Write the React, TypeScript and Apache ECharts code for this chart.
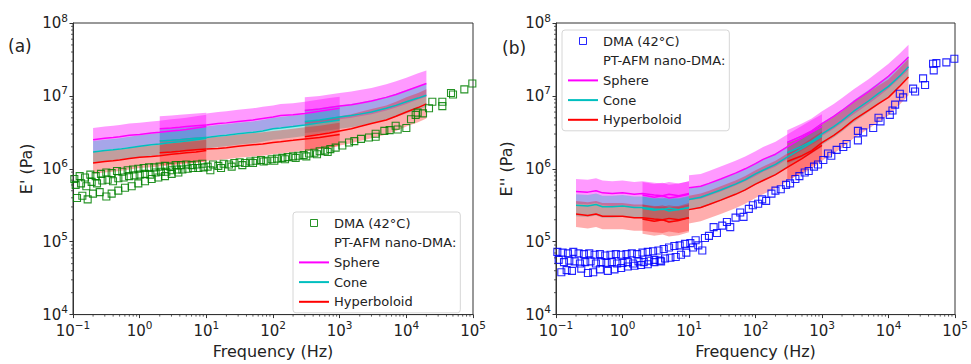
import React, { useEffect, useRef } from 'react';
import * as echarts from 'echarts';

const FONT = 'DejaVu Sans';

// Frequency grids (Hz) of the four PT-AFM nano-DMA measurement segments
const segFreq1 = [0.2, 0.3, 0.4, 0.5, 0.7, 1, 1.5, 2, 3, 4, 5, 7, 10];
const segFreq2 = [2, 3, 4, 5, 7, 10];
const segFreq3 = [10, 15, 20, 30, 50, 70, 100, 130, 200, 300, 500, 700, 1000];
const segFreq4 = [300, 500, 700, 1000, 1500, 2000, 3000, 5000, 7000, 10000, 15000, 20000];
const segFreqs = [segFreq1, segFreq2, segFreq3, segFreq4];

// Panel (a): storage modulus E', log10(Pa), one list per segment
const sphereStorageLog = [
  [6.40, 6.42, 6.43, 6.44, 6.46, 6.47, 6.49, 6.50, 6.52, 6.53, 6.54, 6.56, 6.58],
  [6.55, 6.56, 6.57, 6.58, 6.59, 6.60],
  [6.60, 6.62, 6.63, 6.65, 6.67, 6.69, 6.71, 6.73, 6.74, 6.76, 6.79, 6.81, 6.83],
  [6.80, 6.82, 6.84, 6.86, 6.88, 6.90, 6.93, 6.98, 7.02, 7.07, 7.13, 7.17],
];
const coneStorageLog = [
  [6.23, 6.25, 6.26, 6.27, 6.29, 6.31, 6.33, 6.34, 6.36, 6.37, 6.38, 6.40, 6.42],
  [6.38, 6.39, 6.40, 6.41, 6.42, 6.43],
  [6.43, 6.45, 6.46, 6.48, 6.50, 6.52, 6.55, 6.56, 6.58, 6.60, 6.63, 6.65, 6.67],
  [6.65, 6.67, 6.69, 6.71, 6.73, 6.75, 6.78, 6.83, 6.87, 6.92, 6.97, 7.01],
];
const hyperStorageLog = [
  [6.08, 6.10, 6.11, 6.12, 6.14, 6.16, 6.17, 6.18, 6.20, 6.21, 6.22, 6.23, 6.25],
  [6.22, 6.23, 6.24, 6.25, 6.26, 6.27],
  [6.27, 6.28, 6.29, 6.31, 6.33, 6.34, 6.36, 6.37, 6.39, 6.41, 6.43, 6.45, 6.47],
  [6.44, 6.47, 6.49, 6.52, 6.55, 6.58, 6.62, 6.67, 6.72, 6.78, 6.84, 6.89],
];
// half-width of the shaded bands (log10) per segment
const sphereStorageBand = [0.16, 0.17, 0.16, 0.18];
const coneStorageBand = [0.15, 0.16, 0.15, 0.16];
const hyperStorageBand = [0.15, 0.17, 0.16, 0.2];

// Panel (b): loss modulus E'', log10(Pa), one list per segment
const sphereLossLog = [
  [5.69, 5.68, 5.70, 5.67, 5.66, 5.67, 5.65, 5.66, 5.64, 5.63, 5.65, 5.63, 5.66],
  [5.64, 5.61, 5.63, 5.60, 5.62, 5.65],
  [5.74, 5.76, 5.80, 5.86, 5.94, 6.00, 6.07, 6.13, 6.20, 6.30, 6.42, 6.50, 6.58],
  [6.36, 6.45, 6.52, 6.62, 6.72, 6.80, 6.92, 7.06, 7.16, 7.27, 7.42, 7.53],
];
const coneLossLog = [
  [5.50, 5.49, 5.51, 5.48, 5.48, 5.49, 5.47, 5.47, 5.45, 5.44, 5.46, 5.44, 5.47],
  [5.46, 5.43, 5.45, 5.42, 5.44, 5.47],
  [5.58, 5.61, 5.65, 5.71, 5.79, 5.85, 5.93, 5.98, 6.06, 6.16, 6.28, 6.36, 6.45],
  [6.22, 6.31, 6.38, 6.48, 6.58, 6.66, 6.79, 6.93, 7.03, 7.13, 7.28, 7.40],
];
const hyperLossLog = [
  [5.38, 5.36, 5.38, 5.35, 5.35, 5.35, 5.33, 5.33, 5.31, 5.30, 5.32, 5.30, 5.33],
  [5.31, 5.28, 5.30, 5.27, 5.29, 5.33],
  [5.44, 5.47, 5.51, 5.57, 5.65, 5.71, 5.79, 5.84, 5.92, 6.02, 6.14, 6.23, 6.32],
  [6.10, 6.18, 6.25, 6.36, 6.46, 6.54, 6.67, 6.80, 6.89, 6.98, 7.14, 7.26],
];
const sphereLossBand = [0.17, 0.18, 0.17, 0.17];
const coneLossBand = [0.15, 0.16, 0.15, 0.15];
const hyperLossBand = [0.18, 0.2, 0.19, 0.25];

// DMA (42°C) points: [log10 frequency (Hz), log10 modulus (Pa)]
const dmaStorageLog = [
  [-0.98, 5.86], [-0.90, 5.90], [-0.82, 5.88], [-0.74, 5.92], [-0.66, 5.90], [-0.58, 5.93], [-0.50, 5.95],
  [-0.42, 5.94], [-0.34, 5.97], [-0.26, 5.96], [-0.18, 5.98], [-0.10, 5.99], [-0.02, 6.00], [0.06, 6.01],
  [0.14, 6.02], [0.22, 6.02], [0.30, 6.03], [0.38, 6.04], [0.46, 6.03], [0.54, 6.05], [0.62, 6.05],
  [0.70, 6.06], [0.78, 6.05], [0.86, 6.06], [0.94, 6.07],
  [-0.96, 5.78], [-0.88, 5.80], [-0.80, 5.76], [-0.72, 5.82], [-0.64, 5.80], [-0.56, 5.84], [-0.48, 5.85],
  [-0.40, 5.83], [-0.32, 5.87], [-0.24, 5.88], [-0.16, 5.90], [-0.08, 5.91], [0.0, 5.92], [0.08, 5.93],
  [0.16, 5.92], [0.24, 5.95], [0.32, 5.96], [0.40, 5.96], [0.48, 5.98], [0.56, 5.99], [0.64, 5.99],
  [0.72, 6.00], [0.80, 6.01], [0.88, 6.01], [0.96, 6.02],
  [-0.94, 5.60], [-0.86, 5.63], [-0.78, 5.58], [-0.70, 5.66], [-0.60, 5.68], [-0.50, 5.62], [-0.42, 5.66],
  [-0.32, 5.70], [-0.22, 5.74], [-0.12, 5.76], [-0.02, 5.80], [0.08, 5.83], [0.18, 5.86], [0.28, 5.88],
  [0.38, 5.90], [0.48, 5.93], [0.58, 5.95],
  [1.02, 6.03], [1.10, 6.06], [1.18, 6.04], [1.26, 6.07], [1.34, 6.06], [1.42, 6.08], [1.50, 6.09],
  [1.58, 6.08], [1.66, 6.10], [1.74, 6.11], [1.82, 6.12], [1.90, 6.11], [1.98, 6.13], [2.06, 6.14],
  [2.14, 6.15], [2.22, 6.16], [2.30, 6.17], [2.38, 6.18], [2.46, 6.19], [2.54, 6.21], [2.62, 6.22],
  [2.70, 6.24], [2.78, 6.25], [2.86, 6.27], [2.94, 6.29],
  [1.06, 5.98], [1.22, 6.01], [1.38, 6.03], [1.54, 6.05], [1.70, 6.08], [1.86, 6.10], [2.02, 6.11],
  [2.18, 6.13], [2.34, 6.15], [2.50, 6.17], [2.66, 6.20], [2.82, 6.23],
  [3.04, 6.32], [3.14, 6.36], [3.22, 6.38], [3.32, 6.41], [3.44, 6.43], [3.54, 6.48], [3.54, 6.44],
  [3.67, 6.52], [3.75, 6.53], [3.84, 6.59], [3.87, 6.54], [4.00, 6.56], [4.07, 6.68], [4.14, 6.74],
  [4.17, 6.77], [4.25, 6.76], [4.34, 6.83], [4.39, 6.92], [4.54, 6.92], [4.54, 6.86], [4.67, 7.04],
  [4.70, 7.02], [4.87, 7.09], [4.99, 7.17],
];
const dmaLossLog = [
  [-0.98, 4.86], [-0.90, 4.85], [-0.82, 4.84], [-0.74, 4.86], [-0.66, 4.84], [-0.58, 4.83], [-0.50, 4.84],
  [-0.42, 4.82], [-0.34, 4.83], [-0.26, 4.81], [-0.18, 4.82], [-0.10, 4.83], [-0.02, 4.82], [0.06, 4.83],
  [0.14, 4.84], [0.22, 4.83], [0.30, 4.85], [0.38, 4.86], [0.46, 4.87], [0.54, 4.88], [0.62, 4.90],
  [0.70, 4.92], [0.78, 4.94], [0.86, 4.95], [0.94, 4.97],
  [-0.96, 4.75], [-0.88, 4.72], [-0.80, 4.74], [-0.72, 4.73], [-0.64, 4.70], [-0.56, 4.72], [-0.48, 4.73],
  [-0.40, 4.70], [-0.32, 4.72], [-0.24, 4.71], [-0.16, 4.72], [-0.08, 4.70], [0.0, 4.71], [0.08, 4.72],
  [0.16, 4.70], [0.24, 4.73], [0.32, 4.72], [0.40, 4.74], [0.48, 4.75], [0.56, 4.74], [0.64, 4.77],
  [0.72, 4.78], [0.80, 4.79], [0.88, 4.82], [0.96, 4.85],
  [-0.92, 4.58], [-0.84, 4.61], [-0.76, 4.60], [-0.62, 4.63], [-0.52, 4.57], [-0.44, 4.58], [-0.34, 4.62],
  [-0.22, 4.60], [-0.12, 4.62], [-0.02, 4.64], [0.08, 4.66], [0.18, 4.67], [0.28, 4.68], [0.38, 4.69],
  [0.48, 4.72], [0.58, 4.73],
  [1.02, 4.98], [1.06, 4.92], [1.10, 5.02], [1.14, 4.95], [1.20, 4.88], [1.24, 5.05], [1.30, 5.08],
  [1.37, 5.20], [1.42, 5.12], [1.50, 5.22], [1.57, 5.27], [1.62, 5.20], [1.70, 5.33], [1.77, 5.40],
  [1.82, 5.34], [1.90, 5.45], [1.96, 5.50], [2.04, 5.52], [2.10, 5.58], [2.16, 5.56], [2.24, 5.66],
  [2.30, 5.70], [2.38, 5.72], [2.46, 5.78], [2.52, 5.80], [2.60, 5.86], [2.66, 5.90], [2.74, 5.95],
  [2.80, 5.97], [2.88, 6.03], [2.94, 6.06], [3.02, 6.12], [3.09, 6.21], [3.14, 6.18], [3.22, 6.26],
  [3.32, 6.30], [3.37, 6.34], [3.54, 6.39], [3.54, 6.52], [3.62, 6.50], [3.77, 6.56], [3.85, 6.70],
  [3.88, 6.65], [4.02, 6.74], [4.06, 6.80], [4.10, 6.88], [4.17, 7.03], [4.22, 6.98], [4.37, 7.10],
  [4.40, 7.06], [4.52, 7.24], [4.55, 7.15], [4.67, 7.44], [4.68, 7.35], [4.72, 7.45], [4.87, 7.46],
  [4.99, 7.51],
];

const SPHERE = '#ff00ff';
const CONE = '#00bfbf';
const HYPER = '#ff0000';
const SPHERE_FILL = 'rgba(255,0,255,0.4)';
const CONE_FILL = 'rgba(0,191,191,0.35)';
const HYPER_FILL = 'rgba(255,0,0,0.32)';

const pow10 = (v: number) => Math.pow(10, v);

const expLabel = (v: number) => {
  const e = Math.round(Math.log10(v));
  return `{b|10}{s|${e < 0 ? '\u2212' + -e : e}}`;
};

const labelRich = {
  b: { fontSize: 15, fontFamily: FONT, color: '#222' },
  s: { fontSize: 10.5, fontFamily: FONT, color: '#222', padding: [0, 0, 11, 0] },
};

function buildPanel(
  idx: number,
  models: { name: string; color: string; fill: string; logs: number[][]; band: number[] }[],
  dma: number[][],
  dmaName: string,
  dmaColor: string
) {
  const bands: { freq: number[]; logs: number[]; w: number; fill: string }[] = [];
  models.forEach((m) => {
    m.logs.forEach((seg, s) => bands.push({ freq: segFreqs[s], logs: seg, w: m.band[s], fill: m.fill }));
  });
  const series: any[] = [];
  series.push({
    type: 'custom',
    xAxisIndex: idx,
    yAxisIndex: idx,
    silent: true,
    data: bands.map(() => [1, 1e6]),
    renderItem: (params: any, api: any) => {
      const b = bands[params.dataIndex];
      const upper = b.freq.map((f, i) => api.coord([f, pow10(b.logs[i] + b.w)]));
      const lower = b.freq.map((f, i) => api.coord([f, pow10(b.logs[i] - b.w)])).reverse();
      return { type: 'polygon', shape: { points: upper.concat(lower) }, style: { fill: b.fill } };
    },
  });
  models.forEach((m) => {
    m.logs.forEach((seg, s) => {
      series.push({
        type: 'line',
        name: m.name,
        xAxisIndex: idx,
        yAxisIndex: idx,
        showSymbol: false,
        symbol: 'none',
        color: m.color,
        lineStyle: { color: m.color, width: 1.5 },
        data: segFreqs[s].map((f, i) => [f, pow10(seg[i])]),
        z: 3,
      });
    });
  });
  series.push({
    type: 'scatter',
    name: dmaName,
    xAxisIndex: idx,
    yAxisIndex: idx,
    symbol: 'rect',
    symbolSize: 7,
    itemStyle: { color: 'rgba(0,0,0,0)', borderColor: dmaColor, borderWidth: 1.1, opacity: 0.85 },
    data: dma.map((p) => [pow10(p[0]), pow10(p[1])]),
    z: 4,
  });
  // matplotlib-style minor ticks (2..9 x 10^n) placed through the axes' scales
  const minorX: number[] = [];
  for (let d = -1; d < 5; d++) for (let k = 2; k <= 9; k++) minorX.push(k * Math.pow(10, d));
  const minorY: number[] = [];
  for (let d = 4; d < 8; d++) for (let k = 2; k <= 9; k++) minorY.push(k * Math.pow(10, d));
  series.push({
    type: 'custom',
    xAxisIndex: idx,
    yAxisIndex: idx,
    silent: true,
    clip: false,
    data: [[1, 1e6]],
    renderItem: (params: any, api: any) => {
      const children: any[] = [];
      minorX.forEach((v) => {
        const p = api.coord([v, 1e4]);
        children.push({ type: 'line', shape: { x1: p[0], y1: p[1], x2: p[0], y2: p[1] + 2 }, style: { stroke: '#333', lineWidth: 0.8 } });
      });
      minorY.forEach((v) => {
        const p = api.coord([0.1, v]);
        children.push({ type: 'line', shape: { x1: p[0] - 2, y1: p[1], x2: p[0], y2: p[1] }, style: { stroke: '#333', lineWidth: 0.8 } });
      });
      return { type: 'group', children };
    },
    z: 5,
  });
  return series;
}

function legendFor(left: number, top: number, dmaName: string) {
  const hideSymbol = { opacity: 0 };
  return {
    orient: 'vertical',
    left,
    top,
    itemWidth: 30,
    itemHeight: 7,
    itemGap: 3.7,
    padding: [3, 4, 3, 5],
    backgroundColor: 'rgba(255,255,255,0.85)',
    borderColor: '#d6d6d6',
    borderWidth: 1,
    borderRadius: 3,
    selectedMode: false,
    itemStyle: { borderWidth: 1 },
    textStyle: { fontFamily: FONT, fontSize: 13, color: '#222', lineHeight: 16 },
    formatter: (n: string) => n.trim(),
    data: [
      { name: dmaName, icon: 'path://M0,0H10V10H0Z' },
      { name: 'PT-AFM nano-DMA:', itemStyle: hideSymbol },
      { name: 'Sphere', itemStyle: hideSymbol },
      { name: 'Cone', itemStyle: hideSymbol },
      { name: 'Hyperboloid', itemStyle: hideSymbol },
    ],
  };
}

function makeXAxis(gridIndex: number) {
  return {
    type: 'log',
    gridIndex,
    logBase: 10,
    min: 0.1,
    max: 1e5,
    name: 'Frequency (Hz)',
    nameLocation: 'middle',
    nameGap: 26,
    nameTextStyle: { fontFamily: FONT, fontSize: 16, color: '#222' },
    axisLine: { show: true, lineStyle: { color: '#333', width: 1 } },
    axisTick: { show: true, length: 3.5, lineStyle: { color: '#333' } },
    axisLabel: { formatter: expLabel, rich: labelRich, margin: 5, showMinLabel: true, showMaxLabel: true },
    splitLine: { show: false },
  };
}

function makeYAxis(gridIndex: number, name: string, nameGap: number) {
  return {
    type: 'log',
    gridIndex,
    logBase: 10,
    min: 1e4,
    max: 1e8,
    name,
    nameLocation: 'middle',
    nameGap,
    nameTextStyle: { fontFamily: FONT, fontSize: 16, color: '#222' },
    axisLine: { show: true, lineStyle: { color: '#333', width: 1 } },
    axisTick: { show: true, length: 3.5, lineStyle: { color: '#333' } },
    axisLabel: { formatter: expLabel, rich: labelRich, margin: 5, showMinLabel: true, showMaxLabel: true },
    splitLine: { show: false },
  };
}

export default function App() {
  const ref = useRef<HTMLDivElement>(null);
  useEffect(() => {
    if (!ref.current) return;
    const chart = echarts.init(ref.current, undefined, { renderer: 'svg' });
    const dmaNameA = 'DMA (42°C)';
    const dmaNameB = 'DMA (42°C) ';
    const seriesA = buildPanel(
      0,
      [
        { name: 'Sphere', color: SPHERE, fill: SPHERE_FILL, logs: sphereStorageLog, band: sphereStorageBand },
        { name: 'Cone', color: CONE, fill: CONE_FILL, logs: coneStorageLog, band: coneStorageBand },
        { name: 'Hyperboloid', color: HYPER, fill: HYPER_FILL, logs: hyperStorageLog, band: hyperStorageBand },
      ],
      dmaStorageLog,
      dmaNameA,
      '#008000'
    );
    const seriesB = buildPanel(
      1,
      [
        { name: 'Sphere', color: SPHERE, fill: SPHERE_FILL, logs: sphereLossLog, band: sphereLossBand },
        { name: 'Cone', color: CONE, fill: CONE_FILL, logs: coneLossLog, band: coneLossBand },
        { name: 'Hyperboloid', color: HYPER, fill: HYPER_FILL, logs: hyperLossLog, band: hyperLossBand },
      ],
      dmaLossLog,
      dmaNameB,
      '#0000ff'
    );
    const heading = {
      type: 'line',
      name: 'PT-AFM nano-DMA:',
      xAxisIndex: 0,
      yAxisIndex: 0,
      data: [],
      symbol: 'none',
      color: 'rgba(0,0,0,0)',
      lineStyle: { color: 'rgba(0,0,0,0)', width: 0 },
    };
    chart.setOption({
      animation: false,
      grid: [
        { left: 73, top: 23, width: 400, height: 298, show: true, borderColor: '#333', borderWidth: 1, backgroundColor: 'transparent' },
        { left: 556, top: 23, width: 399, height: 298, show: true, borderColor: '#333', borderWidth: 1, backgroundColor: 'transparent' },
      ],
      xAxis: [makeXAxis(0), makeXAxis(1)],
      yAxis: [makeYAxis(0, "E' (Pa)", 39), makeYAxis(1, "E'' (Pa)", 42)],
      legend: [legendFor(293, 212, dmaNameA), legendFor(562, 30, dmaNameB)],
      graphic: [
        { type: 'text', left: 8, top: 37, style: { text: '(a)', fontFamily: FONT, fontSize: 17, fill: '#222' } },
        { type: 'text', left: 502, top: 39, style: { text: '(b)', fontFamily: FONT, fontSize: 17, fill: '#222' } },
      ],
      series: [...seriesA, ...seriesB, heading],
    });
    return () => chart.dispose();
  }, []);
  return <div ref={ref} style={{ position: 'absolute', left: 0, top: 0, width: 971, height: 364 }} />;
}
